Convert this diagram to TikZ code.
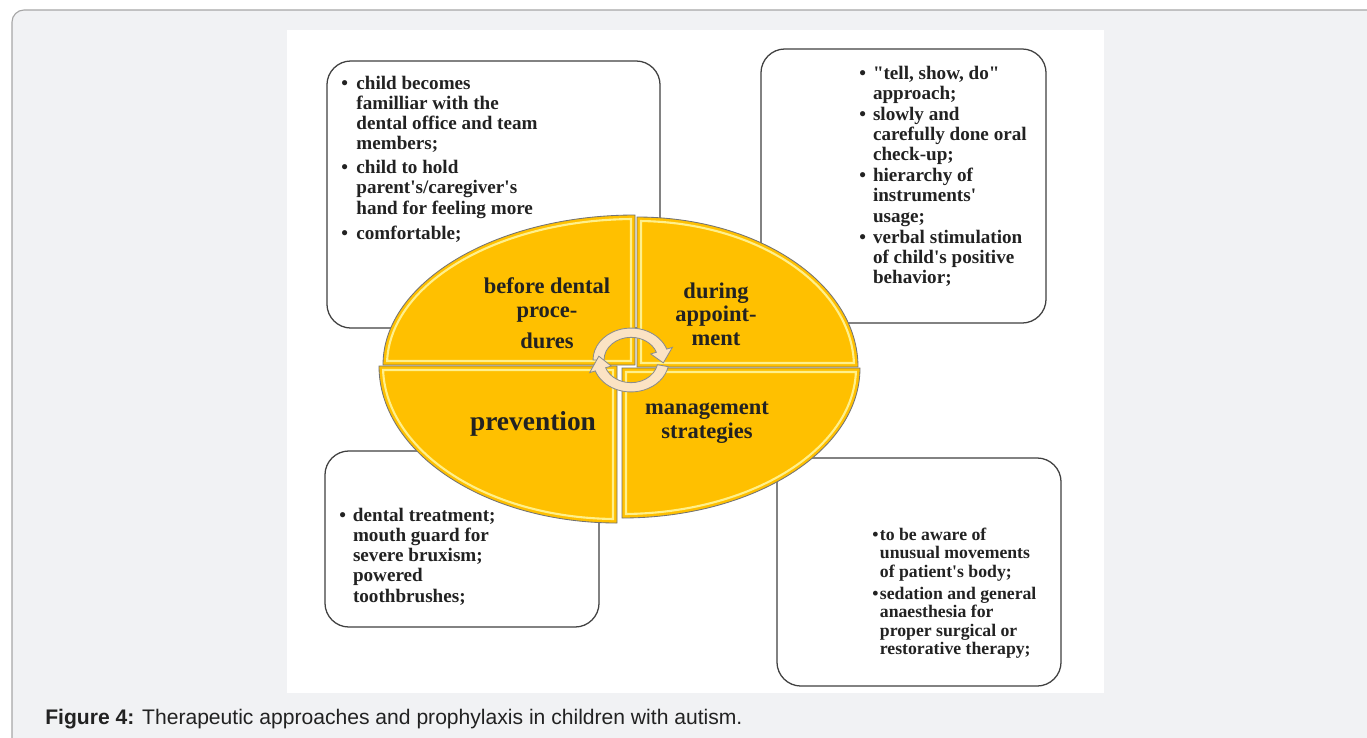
\documentclass[tikz,border=0pt]{standalone}
\usepackage{fontspec}
\setmainfont{Liberation Serif}[Ligatures=TeXOff]
\newfontfamily\capfont{Liberation Sans}
\usetikzlibrary{positioning}
\definecolor{gold}{HTML}{FFC000}
\definecolor{shine}{HTML}{FFF08C}
\definecolor{peach}{HTML}{FBE3C4}
\definecolor{panel}{HTML}{F1F2F4}
\definecolor{ink}{HTML}{222222}
\newcommand{\boxfont}{\fontsize{13.6}{14.4}\selectfont\bfseries}
\newcommand{\smallboxfont}{\fontsize{12.6}{13.2}\selectfont\bfseries}
% one quarter of the ellipse: corner x, corner y, a, b, xscale, yscale
\newcommand{\petal}[6]{%
	\begin{scope}[shift={(#1,#2)},xscale=#5,yscale=#6]
		\filldraw[petal] (0,0) -- (0,#4) arc[start angle=90,end angle=0,x radius=#3,y radius=#4] -- cycle;
		\draw[petalshine] (4,4) -- ({4},{(#4-4)*sin(acos(4/(#3-4)))}) arc[start angle={acos(4/(#3-4))},end angle={asin(4/(#4-4))},x radius={#3-4},y radius={#4-4}] -- cycle;
	\end{scope}}
\begin{document}
\begin{tikzpicture}[x=0.025cm, y=0.025cm,
	infobox/.style={rectangle,draw=black!75,line width=0.9pt,fill=white,rounded corners=0.6cm},
	petal/.style={fill=gold,draw=black!55,line width=0.6pt},
	petalshine/.style={draw=shine,line width=1.5pt},
	cycarrow/.style={fill=peach,draw=black!45,line width=0.6pt},
	list/.style={inner sep=0pt,anchor=base west,text=ink},
	label/.style={inner sep=0pt,align=center,text=ink}]
	\useasboundingbox (0,0) rectangle (1367,-737);
	% Background panel and figure area
	\draw[fill=panel,draw=black!35,line width=0.8pt,rounded corners=0.3cm] (12,-10) rectangle (1420,-790);
	\fill[white] (287,-30) rectangle (1104,-693);

	% Place boxes
	\node [infobox,minimum width=8.325cm,minimum height=6.675cm] (before) at (493.5,-194.5) {};
	\node [infobox,minimum width=7.125cm,minimum height=6.85cm] (during) at (903.5,-186) {};
	\node [infobox,minimum width=6.85cm,minimum height=4.4cm] (prev) at (462,-539) {};
	\node [infobox,minimum width=7.1cm,minimum height=5.7cm] (manage) at (919,-572) {};

	% Ellipse in four quarters
	\petal{635}{-365}{252}{150}{-1}{1}
	\petal{637}{-367}{221}{150}{1}{1}
	\petal{617}{-366}{238}{157}{-1}{-1}
	\petal{622}{-368}{238}{150}{1}{-1}

	% Circular arrows
	\begin{scope}[shift={(631,-360)},yscale=0.84]
		\filldraw[cycarrow] (180:27) arc[start angle=180,end angle=20,radius=27] -- (20:21) -- (-6:32.5) -- (20:44) -- (20:38) arc[start angle=20,end angle=180,radius=38] -- cycle;
		\filldraw[cycarrow] (-12:27) arc[start angle=-12,end angle=-160,radius=27] -- (-160:21) -- (-188:32.5) -- (-160:44) -- (-160:38) arc[start angle=-160,end angle=-12,radius=38] -- cycle;
	\end{scope}

	% Labels in the ellipse
	\node [label,font=\fontsize{16}{17.6}\selectfont\bfseries] (lbefore) at (547,-313) {before dental\\proce-\\[4pt]dures};
	\node [label,font=\fontsize{16}{16.6}\selectfont\bfseries] (lduring) at (716,-314) {during\\appoint-\\ment};
	\node [label,font=\fontsize{19.5}{20}\selectfont\bfseries] (lprev) at (533,-424) {prevention};
	\node [label,font=\fontsize{16}{17}\selectfont\bfseries] (lmanage) at (707,-423) {management\\strategies};

	% Lists in the boxes
	\node [list] (tbefore) at (341,-89) {\boxfont
		\begin{tabular}[t]{@{}l@{\hspace{6pt}}l@{}}
			\textbullet & child becomes\\
			& familliar with the\\
			& dental office and team\\
			& members;\\[2.5pt]
			\textbullet & child to hold\\
			& parent's/caregiver's\\
			& hand for feeling more\\[3.5pt]
			\textbullet & comfortable;
		\end{tabular}};
	\node [list] (tduring) at (859,-79) {\boxfont
		\begin{tabular}[t]{@{}l@{\hspace{5pt}}l@{}}
			\textbullet & "tell, show, do"\\
			& approach;\\[0.5pt]
			\textbullet & slowly and\\
			& carefully done oral\\
			& check-up;\\[0.5pt]
			\textbullet & hierarchy of\\
			& instruments'\\
			& usage;\\[0.5pt]
			\textbullet & verbal stimulation\\
			& of child's positive\\
			& behavior;
		\end{tabular}};
	\node [list] (tprev) at (339,-521) {\boxfont
		\begin{tabular}[t]{@{}l@{\hspace{5pt}}l@{}}
			\textbullet & dental treatment;\\
			& mouth guard for\\
			& severe bruxism;\\
			& powered\\
			& toothbrushes;
		\end{tabular}};
	\node [list] (tmanage) at (872,-540) {\smallboxfont
		\begin{tabular}[t]{@{}l@{\hspace{1pt}}l@{}}
			\textbullet & to be aware of\\
			& unusual movements\\
			& of patient's body;\\[2.5pt]
			\textbullet & sedation and general\\
			& anaesthesia for\\
			& proper surgical or\\
			& restorative therapy;
		\end{tabular}};

	% Caption
	\node [inner sep=0pt,anchor=base west,text=ink,font=\capfont\fontsize{15}{17}\selectfont] (caption) at (45,-724) {\textbf{Figure 4:} Therapeutic approaches and prophylaxis in children with autism.};
\end{tikzpicture}
\end{document}
